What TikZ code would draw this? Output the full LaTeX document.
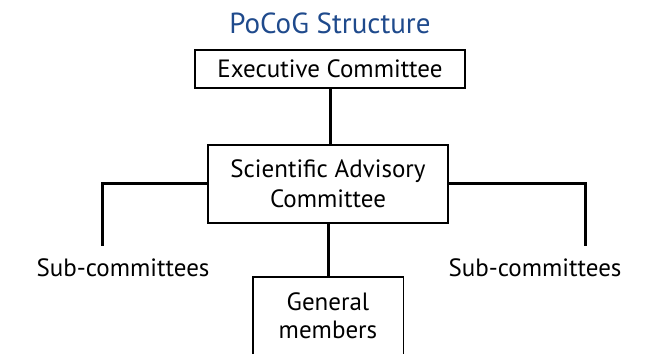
\documentclass[tikz,border=0pt]{standalone}
\usepackage{fontspec}
\setmainfont{PT Sans}
\definecolor{titleblue}{HTML}{1F4A8C}
\begin{document}
\begin{tikzpicture}[x=1pt,y=-1pt,
  boxstyle/.style={draw=black,line width=1.4pt,align=center,inner sep=0pt,
    font=\fontsize{25}{30}\selectfont},
  conn/.style={line width=3pt,line cap=rect},
  labelstyle/.style={font=\fontsize{25}{30}\selectfont,inner sep=0pt}]
\useasboundingbox (0,0) rectangle (655,354);
\node[font=\fontsize{29}{32}\selectfont,text=titleblue,inner sep=0pt] (title) at (330,23) {PoCoG Structure};
\node[boxstyle,minimum width=270pt,minimum height=38pt] (exec) at (330,69) {Executive Committee};
\node[boxstyle,minimum width=240pt,minimum height=78pt] (sac) at (328,184) {Scientific Advisory\\Committee};
\node[align=center,inner sep=0pt,minimum width=150pt,minimum height=77pt,
  font=\fontsize{25}{28}\selectfont] (gm) at (328,315.5) {General\\members};
\draw[line width=1.4pt] (gm.south west) -- (gm.north west) -- (gm.north east) -- (gm.south east);
\node[labelstyle] (subl) at (123,268) {Sub-committees};
\node[labelstyle] (subr) at (535,268) {Sub-committees};
\coordinate (lend) at (102,244);
\coordinate (rend) at (585,244);
\draw[conn] (exec.south) -- (exec.south |- sac.north);
\draw[conn] (sac.west |- 0,183) -| (lend);
\draw[conn] (sac.east |- 0,183) -| (rend);
\draw[conn] (sac.south) -- (sac.south |- gm.north);
\end{tikzpicture}
\end{document}
